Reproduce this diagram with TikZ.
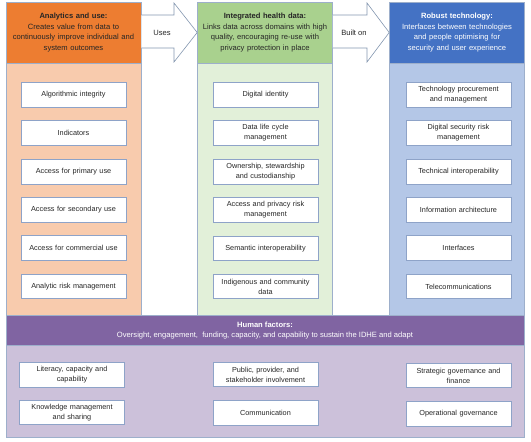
\documentclass[tikz,border=0pt]{standalone}
\usepackage{fontspec}
\setmainfont{Liberation Sans}
\definecolor{orangeH}{HTML}{ED7D31}
\definecolor{orangeL}{HTML}{F8CBAD}
\definecolor{greenH}{HTML}{A9D18E}
\definecolor{greenL}{HTML}{E2F0D9}
\definecolor{blueH}{HTML}{4472C4}
\definecolor{blueL}{HTML}{B4C7E7}
\definecolor{purpH}{HTML}{8064A2}
\definecolor{purpL}{HTML}{CCC1DA}
\definecolor{colline}{HTML}{9DAFCB}
\definecolor{boxline}{HTML}{8EA3C8}
\definecolor{arrline}{HTML}{8497B0}
\definecolor{txt}{HTML}{262626}
\begin{document}
\begin{tikzpicture}[x=1pt,y=-1pt,
  bx/.style={draw=boxline, fill=white, line width=0.7pt, minimum width=105pt,
    minimum height=24.5pt, text width=102pt, align=center, inner sep=0.5pt,
    text=txt, font=\fontsize{7.3}{9.8}\selectfont},
  colhead/.style={draw=colline, line width=0.6pt, minimum width=135pt,
    minimum height=61pt, text width=133pt, align=center, inner sep=0pt,
    font=\fontsize{7.6}{10.5}\selectfont},
  colbody/.style={draw=colline, line width=0.6pt, minimum width=135pt,
    minimum height=253pt, inner sep=0pt},
  blockarrow/.style={draw=arrline, fill=white, line width=0.6pt, line join=miter},
  arrlabel/.style={text=txt, font=\fontsize{7.6}{9}\selectfont, inner sep=0pt}]
\useasboundingbox (0,0) rectangle (531,442);
% column bodies
\node[colbody, fill=orangeL] (ob) at (73.5,189.5) {};
\node[colbody, fill=greenL]  (gb) at (265,189.5) {};
\node[colbody, fill=blueL]   (bb) at (457,189.5) {};
% column headers
\node[colhead, fill=orangeH, text=txt] (oh) at (73.5,32.5)
  {\textbf{Analytics and use:}\\Creates value from data to\\continuously improve individual and\\system outcomes};
\node[colhead, fill=greenH, text=txt] (gh) at (265,32.5)
  {\textbf{Integrated health data:}\\Links data across domains with high\\quality, encouraging re-use with\\privacy protection in place};
\node[colhead, fill=blueH, text=white] (bh) at (457,32.5)
  {\textbf{Robust technology:}\\Interfaces between technologies\\and people optimising for\\security and user experience};
% block arrows
\draw[blockarrow] (oh.east |- 0,15) -- (174,15) -- (174,3) -- (gh.west) -- (174,62) -- (174,48) -- (oh.east |- 0,48);
\node[arrlabel] (uses) at (162,33) {Uses};
\draw[blockarrow] (gh.east |- 0,15) -- (367,15) -- (367,3) -- (bh.west) -- (367,62) -- (367,48) -- (gh.east |- 0,48);
\node[arrlabel] (builton) at (354,33) {Built on};
% boxes, analytics
\node[bx] (a1) at (73.5,95)  {Algorithmic integrity};
\node[bx] (a2) at (73.5,133) {Indicators};
\node[bx] (a3) at (73.5,172) {Access for primary use};
\node[bx] (a4) at (73.5,210) {Access for secondary use};
\node[bx] (a5) at (73.5,248) {Access for commercial use};
\node[bx] (a6) at (73.5,286.5) {Analytic risk management};
% boxes, data
\node[bx] (d1) at (265.5,95)  {Digital identity};
\node[bx] (d2) at (265.5,133) {Data life cycle\\management};
\node[bx] (d3) at (265.5,172) {Ownership, stewardship\\and custodianship};
\node[bx] (d4) at (265.5,210) {Access and privacy risk\\management};
\node[bx] (d5) at (265.5,248.5) {Semantic interoperability};
\node[bx] (d6) at (265.5,286.5) {Indigenous and community\\data};
% boxes, technology
\node[bx] (t1) at (458.5,95)  {Technology procurement\\and management};
\node[bx] (t2) at (458.5,133) {Digital security risk\\management};
\node[bx] (t3) at (458.5,172) {Technical interoperability};
\node[bx] (t4) at (458.5,210) {Information architecture};
\node[bx] (t5) at (458.5,248) {Interfaces};
\node[bx] (t6) at (458.5,286.5) {Telecommunications};
% human factors
\node[draw=colline, line width=0.6pt, fill=purpL, minimum width=518pt, minimum height=92pt, inner sep=0pt] (hb) at (265,391) {};
\node[draw=colline, line width=0.6pt, fill=purpH, minimum width=518pt, minimum height=30pt, inner sep=0pt,
  text=white, align=center, font=\fontsize{7.6}{10.5}\selectfont] (hh) at (265,330.5)
  {\textbf{Human factors:}\\Oversight, engagement,\ \ funding, capacity, and capability to sustain the IDHE and adapt};
\node[bx] (h1) at (72,375)    {Literacy, capacity and\\capability};
\node[bx] (h2) at (72,412.5)  {Knowledge management\\and sharing};
\node[bx] (h3) at (265.5,374.5) {Public, provider, and\\stakeholder involvement};
\node[bx] (h4) at (265.5,413) {Communication};
\node[bx] (h5) at (458.5,375.5) {Strategic governance and\\finance};
\node[bx] (h6) at (458.5,414) {Operational governance};
\end{tikzpicture}
\end{document}
